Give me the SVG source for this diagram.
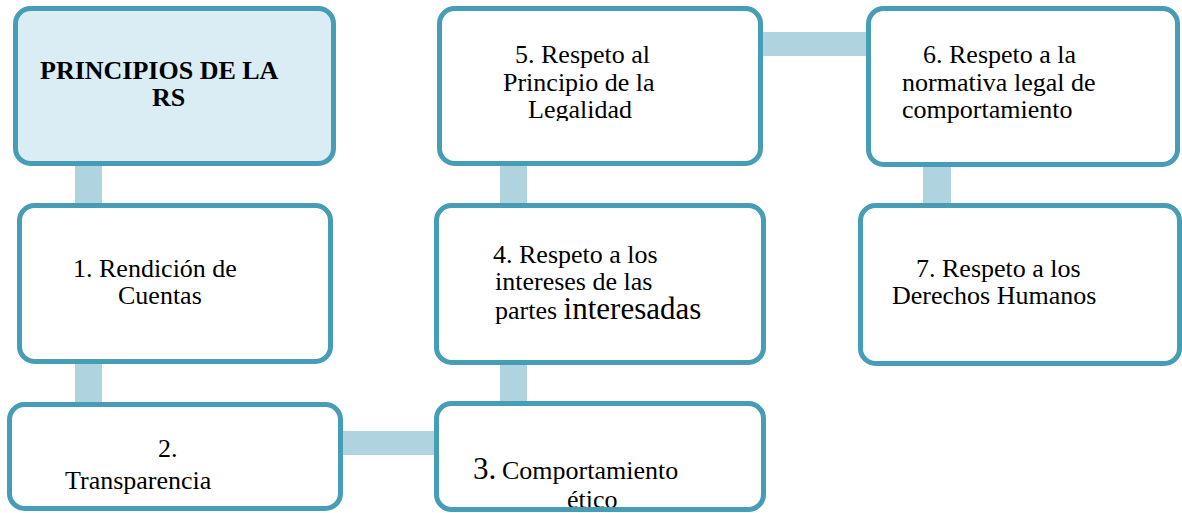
<svg xmlns="http://www.w3.org/2000/svg" width="1182" height="513" viewBox="0 0 1182 513" font-family="'Liberation Serif', 'Times New Roman', serif">
  <style>
    .box { fill: #ffffff; stroke: #479DB5; stroke-width: 5; }
    .head { fill: #DAECF4; }
    .conn { fill: #B0D3E0; }
    text { font-family: 'Liberation Serif', 'Times New Roman', serif; font-size: 26px; fill: #000000; }
    .b { font-weight: bold; }
  </style>
  <defs>
    <clipPath id="clip5"><rect x="440" y="10" width="320" height="111"/></clipPath>
  </defs>
  <g id="connectors">
    <rect class="conn" x="75" y="160" width="27" height="50"/>
    <rect class="conn" x="75" y="360" width="27" height="46"/>
    <rect class="conn" x="340" y="431" width="98" height="24"/>
    <rect class="conn" x="500" y="360" width="27" height="46"/>
    <rect class="conn" x="500" y="160" width="27" height="48"/>
    <rect class="conn" x="760" y="32" width="110" height="24"/>
    <rect class="conn" x="923" y="160" width="28" height="48"/>
  </g>
  <g id="node0">
    <rect class="box head" x="15.5" y="8.5" width="318" height="155" rx="15"/>
    <text class="b" x="40" y="79">PRINCIPIOS DE LA</text>
    <text class="b" x="152" y="106">RS</text>
  </g>
  <g id="node1">
    <rect class="box" x="19.5" y="205.5" width="311" height="156" rx="15"/>
    <text x="73" y="277">1. Rendición de</text>
    <text x="118" y="304">Cuentas</text>
  </g>
  <g id="node2">
    <rect class="box" x="9.5" y="404.5" width="331" height="104" rx="15"/>
    <text x="158" y="457">2.</text>
    <text x="65" y="489">Transparencia</text>
  </g>
  <g id="node3">
    <rect x="436.5" y="403.5" width="327" height="106" rx="15" fill="#ffffff"/>
    <text x="473" y="479"><tspan font-size="31">3.</tspan><tspan x="502">Comportamiento</tspan></text>
    <text x="567" y="508">ético</text>
    <rect x="436.5" y="403.5" width="327" height="106" rx="15" fill="none" stroke="#479DB5" stroke-width="5"/>
  </g>
  <g id="node4">
    <rect class="box" x="436.5" y="205.5" width="327" height="157" rx="15"/>
    <text x="493" y="263">4. Respeto a los</text>
    <text x="495" y="290">intereses de las</text>
    <text x="495" y="319">partes <tspan font-size="31">interesadas</tspan></text>
  </g>
  <g id="node5">
    <rect class="box" x="439.5" y="8.5" width="321" height="155" rx="15"/>
    <g clip-path="url(#clip5)">
      <text x="515" y="63">5. Respeto al</text>
      <text x="503" y="91">Principio de la</text>
      <text x="528" y="118">Legalidad</text>
    </g>
  </g>
  <g id="node6">
    <rect class="box" x="868.5" y="8.5" width="309" height="156" rx="15"/>
    <text x="923" y="63">6. Respeto a la</text>
    <text x="902" y="91">normativa legal de</text>
    <text x="902" y="118">comportamiento</text>
  </g>
  <g id="node7">
    <rect class="box" x="860.5" y="205.5" width="319" height="158" rx="15"/>
    <text x="916" y="277">7. Respeto a los</text>
    <text x="892" y="304">Derechos Humanos</text>
  </g>
</svg>
